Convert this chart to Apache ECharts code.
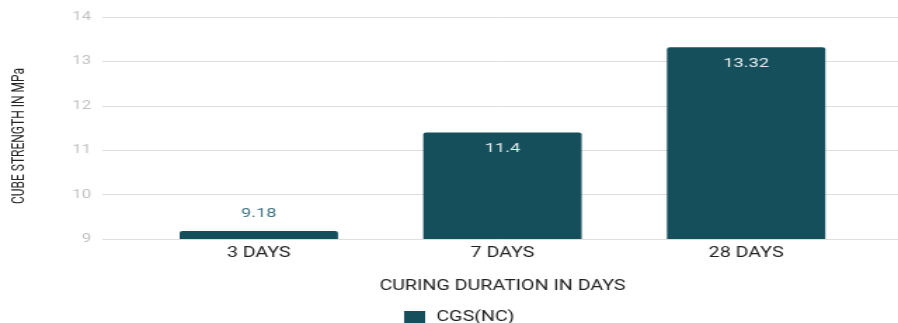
<!DOCTYPE html>
<html>
<head>
<meta charset="utf-8">
<script src="https://cdn.jsdelivr.net/npm/echarts@6/dist/echarts.min.js"></script>
<style>
html,body{margin:0;padding:0;background:#fff;overflow:hidden;}
/* the original picture is stretched sideways, so draw narrower and stretch */
#chart{width:640px;height:323px;transform-origin:0 0;transform:scaleX(1.403125);}
</style>
</head>
<body>
<div id="chart"></div>
<script>
var categories = ['3 DAYS', '7 DAYS', '28 DAYS'];
var strength = [9.18, 11.4, 13.32];
var seriesName = 'CGS(NC)';

var barColor = '#164f5c';
var font = 'Roboto';
var chart = echarts.init(document.getElementById('chart'));

// small bar gets its label above, tall ones inside
var barData = strength.map(function (v) {
    if (v < 10) {
        return {value: v, label: {position: 'top', distance: 11, color: '#3f7482'}};
    }
    return {value: v};
});

var option = {
    animation: false,
    legend: {
        left: 283,
        top: 305,
        itemWidth: 15,
        itemHeight: 12,
        icon: 'rect',
        textStyle: {color: '#222', fontSize: 14, fontFamily: font, padding: [0, 0, 0, 3]},
        data: [seriesName]
    },
    grid: [
        {left: 68, right: 0, top: 17, bottom: 84},
        {left: 97.6, right: 21.4, top: 17, bottom: 84}
    ],
    xAxis: [
        {gridIndex: 0, type: 'category', data: [''], show: false},
        {
            gridIndex: 1,
            type: 'category',
            data: categories,
            axisLine: {show: false},
            axisTick: {show: false},
            axisLabel: {color: '#222', fontSize: 14, margin: 7, fontFamily: font},
            name: 'CURING DURATION IN DAYS',
            nameLocation: 'middle',
            nameGap: 40,
            nameTextStyle: {color: '#222', fontSize: 14, fontFamily: font}
        }
    ],
    yAxis: [
        {
            gridIndex: 0,
            type: 'value',
            min: 9,
            max: 14,
            interval: 1,
            axisLine: {show: false},
            axisTick: {show: false},
            axisLabel: {color: '#c2c2c2', fontSize: 12, margin: 8, fontFamily: font},
            splitLine: {lineStyle: {color: '#dedede', width: 1}},
            name: 'CUBE STRENGTH IN MPa',
            nameLocation: 'middle',
            nameGap: 53,
            nameTextStyle: {color: '#222', fontSize: 12, fontFamily: font, padding: [0, 16, 0, 0]}
        },
        {gridIndex: 1, type: 'value', min: 9, max: 14, show: false}
    ],
    series: [
        {
            name: seriesName,
            type: 'bar',
            xAxisIndex: 1,
            yAxisIndex: 1,
            barWidth: '65%',
            itemStyle: {color: barColor, borderRadius: [2, 2, 0, 0]},
            label: {
                show: true,
                position: 'insideTop',
                distance: 10,
                color: '#e4ecee',
                fontSize: 13,
                fontFamily: font
            },
            data: barData
        }
    ]
};
chart.setOption(option);
</script>
</body>
</html>
